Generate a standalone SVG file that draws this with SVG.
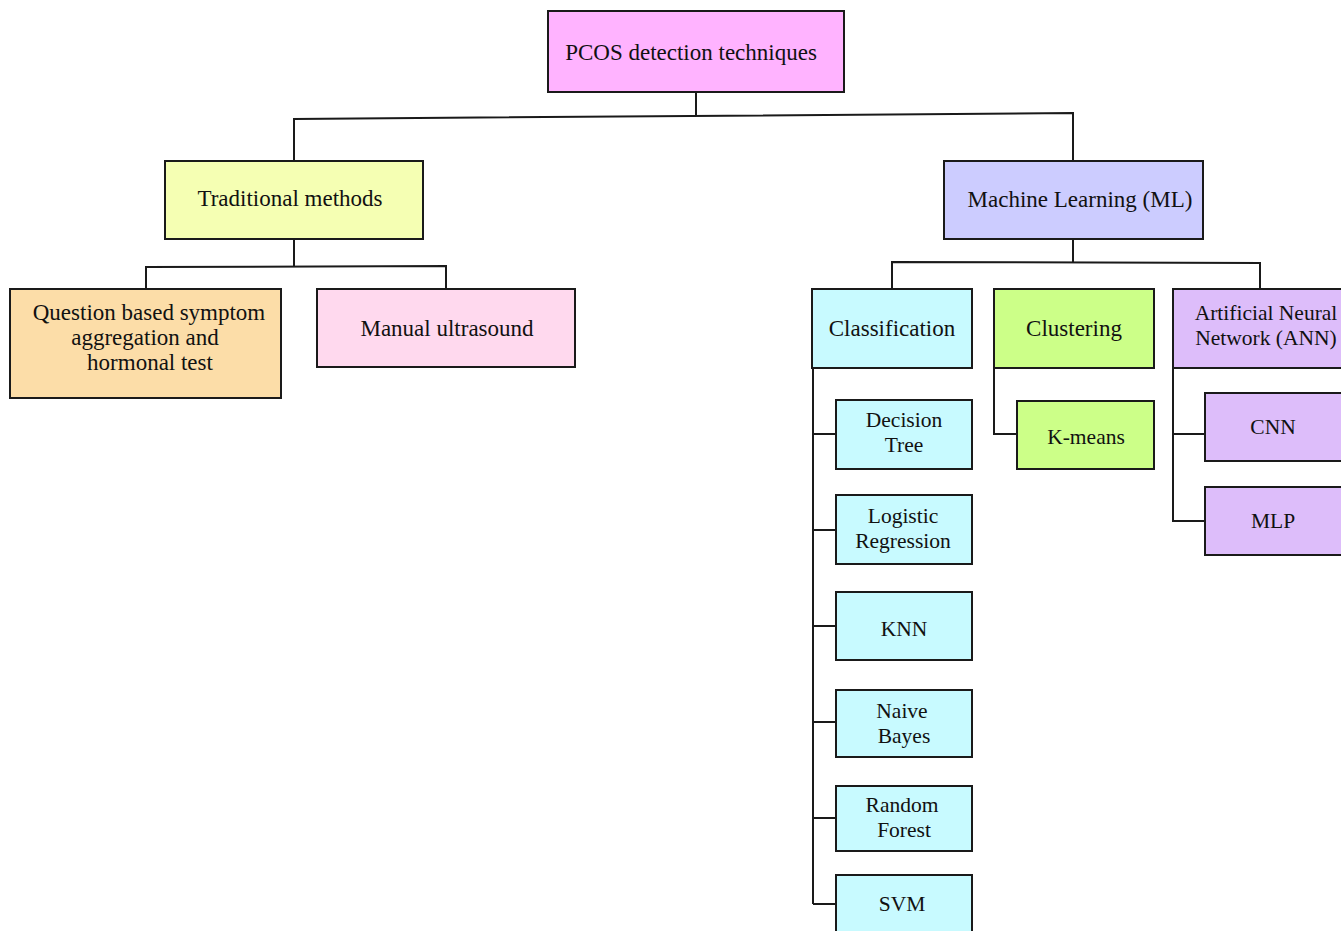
<svg xmlns="http://www.w3.org/2000/svg" width="1341" height="931" viewBox="0 0 1341 931">
<style>
.n{stroke:#1a1a1a;stroke-width:2}
text{font-family:"Liberation Serif","DejaVu Serif","Times New Roman",serif;fill:#111;text-anchor:middle}
.b{font-size:23px}
.s{font-size:21.5px}
.c{fill:none;stroke:#1a1a1a;stroke-width:2}
.cl{fill:#C8FAFF}
.an{fill:#DDBDFA}
</style>
<rect x="0" y="0" width="1341" height="931" fill="#fff"/>
<g id="connectors">
<path class="c" d="M696 92V116M294 161V119L1073 113V161"/>
<path class="c" d="M294 239V266M146 289V267L446 266V289"/>
<path class="c" d="M1073 239V262M892 289V262L1260 263V289"/>
<path class="c" d="M813 368V904M813 434H836M813 530H836M813 626H836M813 722H836M813 818H836M813 904H836"/>
<path class="c" d="M994 368V434H1017"/>
<path class="c" d="M1173 368V521H1205M1173 434H1205"/>
</g>
<g id="root"><rect class="n" x="548" y="11" width="296" height="81" fill="#FFB3FF"/><text class="b" x="691" y="60">PCOS detection techniques</text></g>
<g id="traditional"><rect class="n" x="165" y="161" width="258" height="78" fill="#F5FFB3"/><text class="b" x="290" y="206">Traditional methods</text></g>
<g id="ml"><rect class="n" x="944" y="161" width="259" height="78" fill="#CCCCFF"/><text class="b" x="1080" y="207">Machine Learning (ML)</text></g>
<g id="question"><rect class="n" x="10" y="289" width="271" height="109" fill="#FCDDA8"/><text class="b" x="149" y="320">Question based symptom</text><text class="b" x="145" y="345">aggregation and</text><text class="b" x="150" y="370">hormonal test</text></g>
<g id="manual"><rect class="n" x="317" y="289" width="258" height="78" fill="#FFD9EE"/><text class="b" x="447" y="336">Manual ultrasound</text></g>
<g id="classification"><rect class="n cl" x="812" y="289" width="160" height="79"/><text class="b" x="892" y="336">Classification</text></g>
<g id="clustering"><rect class="n" x="994" y="289" width="160" height="79" fill="#CCFF88"/><text class="b" x="1074" y="336">Clustering</text></g>
<g id="ann"><rect class="n an" x="1173" y="289" width="175" height="79"/><text class="s" x="1266" y="320">Artificial Neural</text><text class="s" x="1266" y="345">Network (ANN)</text></g>
<g id="dt"><rect class="n cl" x="836" y="400" width="136" height="69"/><text class="s" x="904" y="427">Decision</text><text class="s" x="904" y="452">Tree</text></g>
<g id="lr"><rect class="n cl" x="836" y="495" width="136" height="69"/><text class="s" x="903" y="523">Logistic</text><text class="s" x="903" y="548">Regression</text></g>
<g id="knn"><rect class="n cl" x="836" y="592" width="136" height="68"/><text class="s" x="904" y="636">KNN</text></g>
<g id="nb"><rect class="n cl" x="836" y="690" width="136" height="67"/><text class="s" x="902" y="718">Naive</text><text class="s" x="904" y="743">Bayes</text></g>
<g id="rf"><rect class="n cl" x="836" y="786" width="136" height="65"/><text class="s" x="902" y="812">Random</text><text class="s" x="904" y="837">Forest</text></g>
<g id="svm"><rect class="n cl" x="836" y="875" width="136" height="70"/><text class="s" x="902" y="911">SVM</text></g>
<g id="kmeans"><rect class="n" x="1017" y="401" width="137" height="68" fill="#CCFF88"/><text class="s" x="1086" y="444">K-means</text></g>
<g id="cnn"><rect class="n an" x="1205" y="393" width="145" height="68"/><text class="s" x="1273" y="434">CNN</text></g>
<g id="mlp"><rect class="n an" x="1205" y="487" width="145" height="68"/><text class="s" x="1273" y="528">MLP</text></g>
</svg>
